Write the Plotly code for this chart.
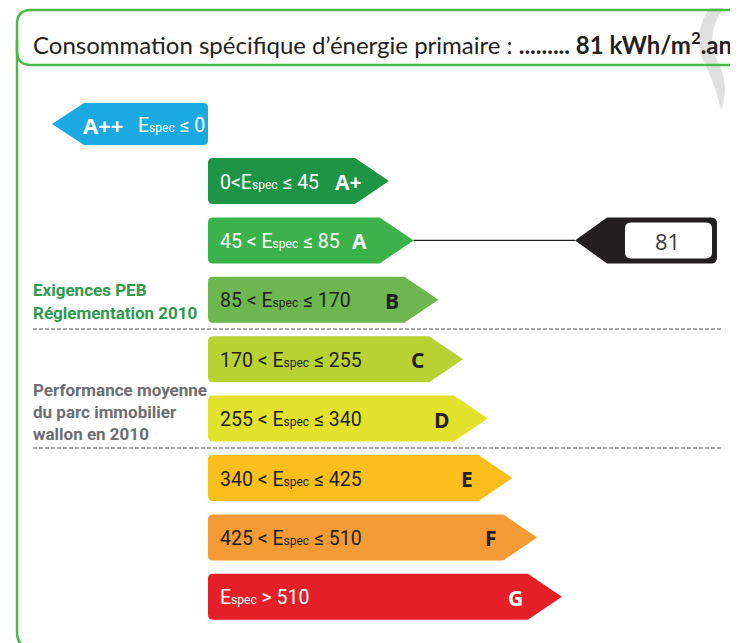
import plotly.graph_objects as go

# ---------------- data ----------------
classes = ["A++", "A+", "A", "B", "C", "D", "E", "F", "G"]
thresholds = [0, 45, 85, 170, 255, 340, 425, 510]
value = 81
unit_text = "kWh/m<sup>2</sup>.an"
title_text = "Consommation spécifique d’énergie primaire :"
note_peb = ["Exigences PEB", "Réglementation 2010"]
note_parc = ["Performance moyenne", "du parc immobilier", "wallon en 2010"]

# ---------------- style ----------------
colors = {"A++": "#1ba9e2", "A+": "#1e9447", "A": "#3bb34a", "B": "#6db650",
          "C": "#b9d233", "D": "#e2e22c", "E": "#fbbf1d", "F": "#f49b36", "G": "#e41f28"}
txtcol = {"A++": "white", "A+": "white", "A": "white", "B": "#231f20", "C": "#231f20",
          "D": "#231f20", "E": "#231f20", "F": "#231f20", "G": "white"}
GREEN = "#4cb848"
COND = "Roboto, sans-serif"
BOLD = "Open Sans, Lato, sans-serif"
ESPEC = 'E<span style="font-size:12px">spec</span>'

W, H = 738, 643
OFF = 8  # page body margin compensation
fig = go.Figure()
shapes = []
ann = []


def label_for(i):
    if i == 0:
        return "%s ≤ %d" % (ESPEC, thresholds[0])
    if i == len(classes) - 1:
        return "%s > %d" % (ESPEC, thresholds[-1])
    lo, hi = thresholds[i - 1], thresholds[i]
    if i == 1:
        return "%d<%s ≤ %d" % (lo, ESPEC, hi)
    return "%d < %s ≤ %d" % (lo, ESPEC, hi)


def class_of(v):
    if v <= thresholds[0]:
        return 0
    for i in range(1, len(thresholds)):
        if v <= thresholds[i]:
            return i
    return len(classes) - 1


# watermark (light grey swirl top-right)
shapes.append(dict(type="path", xref="x", yref="y", layer="below",
                   path="M 716 0 C 698 20, 694 42, 704 62 C 712 78, 717 92, 721 110 "
                        "C 728 92, 725 74, 716 58 C 708 42, 712 20, 730 0 Z",
                   fillcolor="#e0e0e0", line=dict(width=0)))

# outer frame
r = 14
shapes.append(dict(type="path", xref="x", yref="y",
                   path=f"M 780 10 L {17+r} 10 Q 17 10 17 {10+r} L 17 {65-r} Q 17 65 {17+r} 65 L 780 65",
                   line=dict(color=GREEN, width=2.5)))
shapes.append(dict(type="path", xref="x", yref="y",
                   path="M 17 40 L 17 632 Q 17 648 33 648",
                   line=dict(color=GREEN, width=2.5)))

# title
ann.append(dict(x=31, y=43, xref="x", yref="y", xanchor="left", yanchor="middle",
                text=title_text + " <b>......... %d %s</b>" % (value, unit_text),
                showarrow=False, font=dict(family="Lato, Open Sans, sans-serif", size=24, color="#231f20")))

# A++ arrow (points left)
y0, y1 = 103, 145
yc = (y0 + y1) / 2
rr = 5
shapes.append(dict(type="path", xref="x", yref="y",
                   path=f"M 52 {yc} L 84 {y0} L {208-rr} {y0} Q 208 {y0} 208 {y0+rr} "
                        f"L 208 {y1-rr} Q 208 {y1} {208-rr} {y1} L 84 {y1} Z",
                   fillcolor=colors["A++"], line=dict(width=0)))
ann.append(dict(x=81, y=yc + 1, xref="x", yref="y", xanchor="left", yanchor="middle",
                text="<b>A++</b>", showarrow=False,
                font=dict(family=BOLD, size=22, color="white")))
ann.append(dict(x=136, y=yc + 1, xref="x", yref="y", xanchor="left", yanchor="middle",
                text=label_for(0), showarrow=False,
                font=dict(family=COND, size=19.5, color="white")))

# other classes (point right)
X0 = 208
HB = 46
tips = {}
for i in range(1, len(classes)):
    c = classes[i]
    yc = 181 + 59.4 * (i - 1)
    top, bot = yc - HB / 2, yc + HB / 2
    tip = 389 + 24.7 * (i - 1)
    rx = tip - 34
    tips[i] = (tip, yc)
    shapes.append(dict(type="path", xref="x", yref="y",
                       path=f"M {X0+rr} {top} L {rx} {top} L {tip} {yc} L {rx} {bot} "
                            f"L {X0+rr} {bot} Q {X0} {bot} {X0} {bot-rr} L {X0} {top+rr} "
                            f"Q {X0} {top} {X0+rr} {top} Z",
                       fillcolor=colors[c], line=dict(width=0)))
    ann.append(dict(x=218, y=yc + 1, xref="x", yref="y", xanchor="left", yanchor="middle",
                    text=label_for(i), showarrow=False,
                    font=dict(family=COND, size=19.5, color=txtcol[c])))
    if c == "A+":
        lx = 348
    elif c == "A":
        lx = 359
    else:
        lx = rx - 12
    ann.append(dict(x=lx, y=yc + 1, xref="x", yref="y", xanchor="center", yanchor="middle",
                    text="<b>%s</b>" % c, showarrow=False,
                    font=dict(family=BOLD, size=21, color=txtcol[c])))

# dashed separators
for yy in (329, 448):
    shapes.append(dict(type="line", xref="x", yref="y", x0=33, x1=723, y0=yy, y1=yy,
                       line=dict(color="#555555", width=1, dash="4px,2px")))

# side notes
for k, t in enumerate(note_peb):
    ann.append(dict(x=31, y=290 + 23 * k, xref="x", yref="y", xanchor="left", yanchor="middle",
                    text="<b>%s</b>" % t, showarrow=False,
                    font=dict(family=COND, size=17, color="#2e9a4c")))
for k, t in enumerate(note_parc):
    ann.append(dict(x=31, y=390 + 22 * k, xref="x", yref="y", xanchor="left", yanchor="middle",
                    text="<b>%s</b>" % t, showarrow=False,
                    font=dict(family=COND, size=17, color="#6d6e71")))

# value marker
ci = class_of(value)
tip, yc = tips[ci]
mt = 575
shapes.append(dict(type="line", xref="x", yref="y", x0=tip, x1=mt, y0=yc, y1=yc,
                   line=dict(color="#231f20", width=1.2)))
mt0, mb0 = yc - 23, yc + 23
shapes.append(dict(type="path", xref="x", yref="y",
                   path=f"M {mt} {yc} L 607 {mt0} L 711 {mt0} Q 717 {mt0} 717 {mt0+6} "
                        f"L 717 {mb0-6} Q 717 {mb0} 711 {mb0} L 607 {mb0} Z",
                   fillcolor="#231f20", line=dict(width=0)))
shapes.append(dict(type="path", xref="x", yref="y",
                   path=f"M 631 {yc-18} L 706 {yc-18} Q 712 {yc-18} 712 {yc-12} L 712 {yc+12} "
                        f"Q 712 {yc+18} 706 {yc+18} L 631 {yc+18} Q 625 {yc+18} 625 {yc+12} "
                        f"L 625 {yc-12} Q 625 {yc-18} 631 {yc-18} Z",
                   fillcolor="white", line=dict(width=0)))
ann.append(dict(x=667, y=yc + 1, xref="x", yref="y", xanchor="center", yanchor="middle",
                text=str(value), showarrow=False,
                font=dict(family="Open Sans, sans-serif", size=22, color="#3a3a3a")))

fig.update_layout(width=W, height=H, margin=dict(l=0, r=0, t=0, b=0),
                  paper_bgcolor="white", plot_bgcolor="white",
                  xaxis=dict(range=[OFF, W + OFF], visible=False, fixedrange=True),
                  yaxis=dict(range=[H + OFF, OFF], visible=False, fixedrange=True),
                  shapes=shapes, annotations=ann, showlegend=False)
fig.write_html("out.html")
